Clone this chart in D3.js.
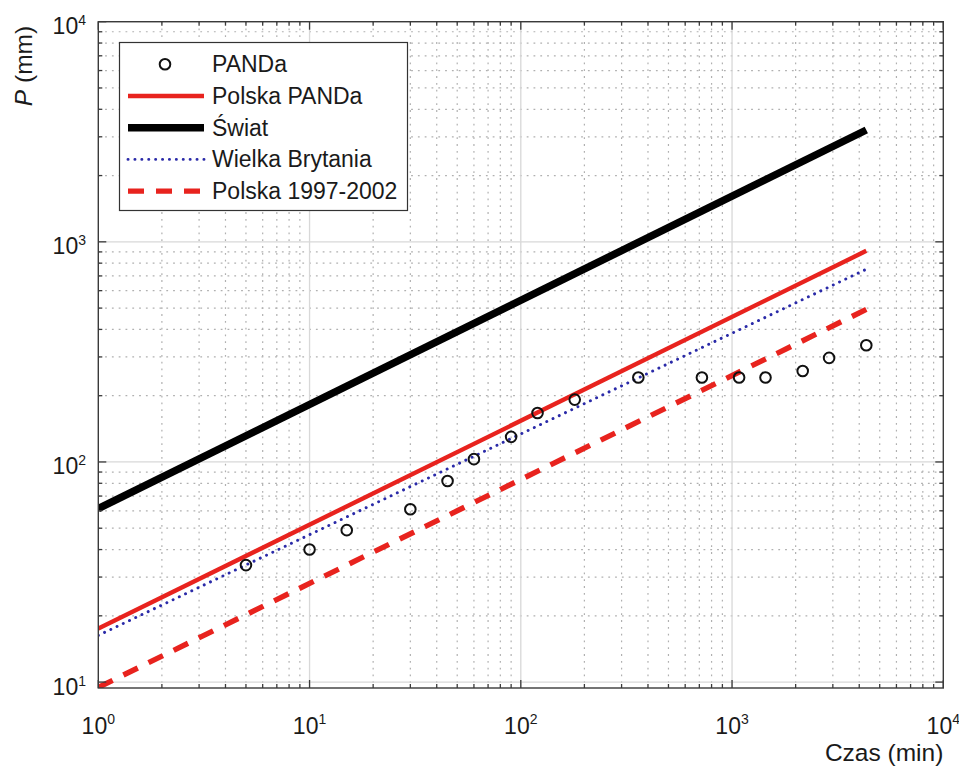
<!DOCTYPE html>
<html>
<head>
<meta charset="utf-8">
<script src="https://cdn.jsdelivr.net/npm/d3@7"></script>
<style>
  html, body { margin: 0; padding: 0; background: #fff; }
  svg { display: block; font-family: "Liberation Sans", Arial, Helvetica, sans-serif; }
</style>
</head>
<body>
<svg id="chart" width="959" height="769"></svg>
<script>
// Czas trwania opadu (min) i wysokość opadu maksymalnego (mm) – pomiary PANDa
const czas = [5, 10, 15, 30, 45, 60, 90, 120, 180, 360, 720, 1080, 1440, 2160, 2880, 4320];
const opadPANDa = [34, 40, 49, 61, 82, 103, 130, 167, 192, 242, 242, 242, 242, 259, 297, 339];

// Obwiednie (proste w skali log-log) – wartości na krańcach przedziału czasu
const czasObwiedni = [1, 4320];
const polskaPANDa = [17.5, 910];
const swiat = [61.4, 3221];
const wielkaBrytania = [16.3, 751];
const polska19972002 = [9.46, 493];

// Etykiety osi
const xTickVals = [1, 10, 100, 1000, 10000];
const yTickVals = [10, 100, 1000, 10000];
const etykietaX = "Czas (min)";
const etykietaY = "(mm)";

const svg = d3.select("#chart");
const L = 98.3, R = 943.3, T = 21.7, B = 688;

const x = d3.scaleLog().domain([1, 10000]).range([L, R]);
const y = d3.scaleLog().domain([9.4, 10000]).range([B, T]);

const axisColor = "#3a3a3a";

// pozycje podziałki pomocniczej (2..9 w każdej dekadzie)
function minors(lo, hi) {
  const out = [];
  for (let e = lo; e < hi; e++) {
    for (let k = 2; k <= 9; k++) out.push(k * Math.pow(10, e));
  }
  return out;
}
const xMinor = minors(0, 4);
const yMinor = minors(0, 4).filter(v => v > 9.4);

// obszar wykresu
svg.append("defs").append("clipPath").attr("id", "plot")
  .append("rect").attr("x", L).attr("y", T).attr("width", R - L).attr("height", B - T);

// siatka
const grid = svg.append("g");
grid.selectAll(".gxm").data(xMinor).join("line")
  .attr("x1", d => x(d)).attr("x2", d => x(d)).attr("y1", T).attr("y2", B)
  .attr("stroke", "#b0b0b0").attr("stroke-width", 1.2).attr("stroke-dasharray", "1.8,5");
grid.selectAll(".gym").data(yMinor).join("line")
  .attr("y1", d => y(d)).attr("y2", d => y(d)).attr("x1", L).attr("x2", R)
  .attr("stroke", "#b0b0b0").attr("stroke-width", 1.2).attr("stroke-dasharray", "1.8,5");
grid.selectAll(".gxM").data(xTickVals.slice(1, -1)).join("line")
  .attr("x1", d => x(d)).attr("x2", d => x(d)).attr("y1", T).attr("y2", B)
  .attr("stroke", "#d8d8d8").attr("stroke-width", 1.3);
grid.selectAll(".gyM").data(yTickVals).join("line")
  .attr("y1", d => y(d)).attr("y2", d => y(d)).attr("x1", L).attr("x2", R)
  .attr("stroke", "#d8d8d8").attr("stroke-width", 1.3);

// linie obwiedni
const lineGen = d3.line().x(d => x(d[0])).y(d => y(d[1]));
const plot = svg.append("g").attr("clip-path", "url(#plot)");
const serie = [
  { v: swiat, color: "#000", w: 7.5, dash: null, cap: "butt" },
  { v: polskaPANDa, color: "#e8231e", w: 4.4, dash: null, cap: "butt" },
  { v: wielkaBrytania, color: "#2a2aa8", w: 2.9, dash: "0.1,6.8", cap: "round" },
  { v: polska19972002, color: "#e8231e", w: 5.4, dash: "16,12", cap: "butt" }
];
serie.forEach(s => {
  plot.append("path")
    .datum(czasObwiedni.map((t, i) => [t, s.v[i]]))
    .attr("d", lineGen)
    .attr("fill", "none")
    .attr("stroke", s.color)
    .attr("stroke-width", s.w)
    .attr("stroke-linecap", s.cap)
    .attr("stroke-dasharray", s.dash);
});

// punkty PANDa
plot.selectAll(".pt").data(czas.map((t, i) => [t, opadPANDa[i]])).join("circle")
  .attr("cx", d => x(d[0])).attr("cy", d => y(d[1])).attr("r", 5.3)
  .attr("fill", "none").attr("stroke", "#111").attr("stroke-width", 2);

// ramka osi
const ax = svg.append("g");
ax.append("rect").attr("x", L).attr("y", T).attr("width", R - L).attr("height", B - T)
  .attr("fill", "none").attr("stroke", axisColor).attr("stroke-width", 1.4);

// znaczniki podziałki na wszystkich bokach (do wewnątrz)
const tick = (vals, len, side) => {
  vals.forEach(v => {
    if (side === "b") ax.append("line").attr("x1", x(v)).attr("x2", x(v)).attr("y1", B).attr("y2", B - len);
    if (side === "t") ax.append("line").attr("x1", x(v)).attr("x2", x(v)).attr("y1", T).attr("y2", T + len);
    if (side === "l") ax.append("line").attr("y1", y(v)).attr("y2", y(v)).attr("x1", L).attr("x2", L + len);
    if (side === "r") ax.append("line").attr("y1", y(v)).attr("y2", y(v)).attr("x1", R).attr("x2", R - len);
  });
};
["b", "t"].forEach(s => { tick(xMinor, 4, s); tick(xTickVals, 8, s); });
["l", "r"].forEach(s => { tick(yMinor, 4, s); tick(yTickVals, 8, s); });
ax.selectAll("line").attr("stroke", axisColor).attr("stroke-width", 1.3);

// etykiety 10^n
const exp = v => Math.round(Math.log10(v));
const xl = svg.append("g").attr("fill", "#1a1a1a");
xTickVals.forEach(v => {
  const t = xl.append("text").attr("x", x(v)).attr("y", B + 46).attr("text-anchor", "middle")
    .attr("font-size", 23);
  t.append("tspan").text("10");
  t.append("tspan").attr("font-size", 14).attr("dy", -10).text(exp(v));
});
yTickVals.forEach(v => {
  const t = xl.append("text").attr("x", 86).attr("y", y(v) + 12.5).attr("text-anchor", "end")
    .attr("font-size", 23);
  t.append("tspan").text("10");
  t.append("tspan").attr("font-size", 14).attr("dy", -9).text(exp(v));
});

// tytuły osi
svg.append("text").attr("x", R).attr("y", 761).attr("text-anchor", "end")
  .attr("font-size", 24.5).attr("fill", "#1a1a1a").text(etykietaX);
const yt = svg.append("text").attr("transform", "translate(32,66) rotate(-90)")
  .attr("text-anchor", "middle").attr("font-size", 24.5).attr("fill", "#1a1a1a");
yt.append("tspan").attr("font-style", "italic").text("P");
yt.append("tspan").text(" " + etykietaY);

// legenda
const legendNames = ["PANDa", "Polska PANDa", "Świat", "Wielka Brytania", "Polska 1997-2002"];
const lg = svg.append("g");
lg.append("rect").attr("x", 119.5).attr("y", 42.5).attr("width", 288).attr("height", 168)
  .attr("fill", "#fff").attr("stroke", "#333").attr("stroke-width", 1.2);
const rowY = i => 64.3 + i * 31.7;
legendNames.forEach((n, i) => {
  lg.append("text").attr("x", 212).attr("y", rowY(i) + 8).attr("font-size", 23)
    .attr("fill", "#1a1a1a").text(n);
});
lg.append("circle").attr("cx", 165).attr("cy", rowY(0)).attr("r", 5.3)
  .attr("fill", "none").attr("stroke", "#111").attr("stroke-width", 2);
const legendSeries = [serie[1], serie[0], serie[2], serie[3]];
legendSeries.forEach((s, i) => {
  lg.append("line").attr("x1", 128).attr("x2", 204).attr("y1", rowY(i + 1)).attr("y2", rowY(i + 1))
    .attr("stroke", s.color).attr("stroke-width", s.w).attr("stroke-linecap", s.cap)
    .attr("stroke-dasharray", s.dash);
});
</script>
</body>
</html>
